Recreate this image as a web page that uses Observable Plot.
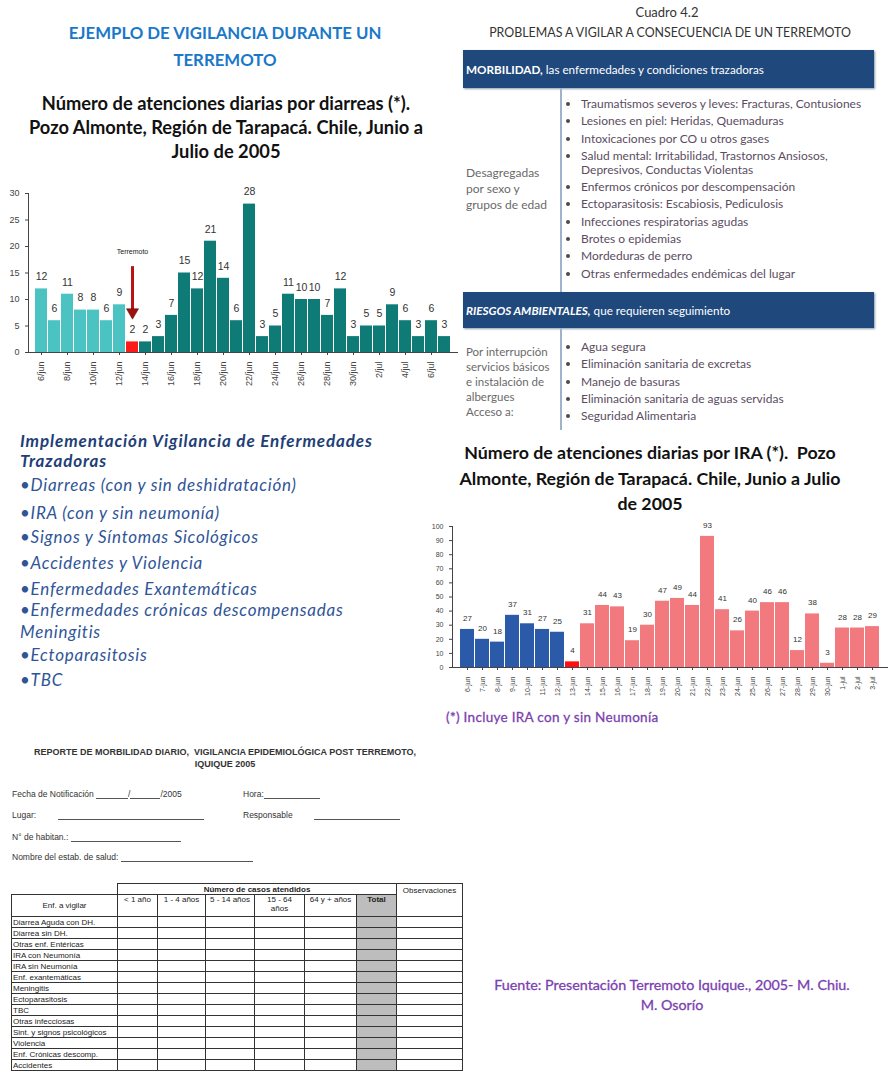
<!DOCTYPE html>
<html><head><meta charset="utf-8">
<script src="https://cdn.jsdelivr.net/npm/d3@7"></script>
<script src="https://cdn.jsdelivr.net/npm/@observablehq/plot@0.6"></script>
<style>
body{margin:0;width:889px;height:1080px;position:relative;background:#fff;font-family:Lato,"Open Sans",sans-serif;overflow:hidden}
.a{position:absolute;white-space:nowrap}
.banner{position:absolute;left:463px;width:411px;background:#1f497d;color:#fff;font-size:11.7px;box-shadow:1px 1px 2px #8899aa;display:flex;align-items:center;padding-left:3px;box-sizing:border-box}
.vline{position:absolute;left:560px;width:2px;background:#9fb3cc}
ul.bl{position:absolute;left:566px;margin:0;padding:0;list-style:none;font-size:12px;color:#5b4d5f}
ul.bl li{line-height:14px;padding-bottom:3.3px;padding-left:15px;position:relative;white-space:nowrap}
ul.bl li:before{content:"";position:absolute;left:0;top:5px;width:4px;height:4px;border-radius:50%;background:#4a4a4a}
.side{position:absolute;left:466px;font-size:12px;color:#6a6a6a;line-height:16px;white-space:nowrap}
.it{position:absolute;left:20px;font-style:italic;font-size:17px;letter-spacing:0.75px;color:#2f5597;white-space:nowrap}
.pur{color:#7a3fb0;-webkit-text-stroke:0.3px #7a3fb0}
.form{font-family:"Liberation Sans",Arial,sans-serif;color:#333;font-size:8.5px}
.ln{display:inline-block;border-bottom:1px solid #555;height:9px;vertical-align:bottom}
table.t{position:absolute;left:11px;top:883px;border-collapse:collapse;font-family:"Liberation Sans",Arial,sans-serif;font-size:8px;color:#222;table-layout:fixed}
table.t td{border:1px solid #333;padding:0 1px;height:10px;line-height:9px;white-space:nowrap;overflow:hidden}
table.t td.g{background:#bdbdbd}
</style></head><body>

<div class="a" style="left:20px;top:19px;width:410px;text-align:center;color:#1a78c8;font-weight:bold;font-size:16.8px;line-height:27px">EJEMPLO DE VIGILANCIA DURANTE UN<br>TERREMOTO</div>
<div class="a" style="left:6px;top:91px;width:440px;text-align:center;color:#111;font-weight:bold;font-size:18.3px;line-height:24px">Número de atenciones diarias por diarreas (*).<br>Pozo Almonte, Región de Tarapacá. Chile, Junio a<br>Julio de 2005</div>
<div id="diarrea" class="a" style="left:0;top:180px"></div>

<div class="a" style="left:445px;top:4px;width:444px;text-align:center;color:#333;font-size:13px">Cuadro 4.2</div>
<div class="a" style="left:445px;top:25px;width:450px;text-align:center;color:#333;font-size:12.4px">PROBLEMAS A VIGILAR A CONSECUENCIA DE UN TERREMOTO</div>
<div class="banner" style="top:50px;height:38px"><b>MORBILIDAD,</b>&nbsp;las enfermedades y condiciones trazadoras</div>
<div class="vline" style="top:88px;height:204px"></div>
<ul class="bl" style="top:97px" id="morb"></ul>
<div class="side" style="top:165px">Desagregadas<br>por sexo y<br>grupos de edad</div>
<div class="banner" style="top:292px;height:36px"><b><i>RIESGOS AMBIENTALES,</i></b>&nbsp;que requieren seguimiento</div>
<div class="vline" style="top:328px;height:102px"></div>
<ul class="bl" style="top:340px" id="riesgo"></ul>
<div class="side" style="top:344px;line-height:15px;font-size:11.5px">Por interrupción<br>servicios básicos<br>e instalación de<br>albergues<br>Acceso a:</div>

<div class="a" style="left:20px;top:431px;font-weight:bold;font-style:italic;font-size:17px;letter-spacing:0.9px;color:#1f3f77;line-height:20px">Implementación Vigilancia de Enfermedades<br>Trazadoras</div>
<div class="it" style="top:474px">•Diarreas (con y sin deshidratación)</div>
<div class="it" style="top:502px">•IRA (con y sin neumonía)</div>
<div class="it" style="top:526px">•Signos y Síntomas Sicológicos</div>
<div class="it" style="top:552px">•Accidentes y Violencia</div>
<div class="it" style="top:578px">•Enfermedades Exantemáticas</div>
<div class="it" style="top:599px">•Enfermedades crónicas descompensadas</div>
<div class="it" style="top:621px">Meningitis</div>
<div class="it" style="top:644px">•Ectoparasitosis</div>
<div class="it" style="top:669px">•TBC</div>

<div class="a" style="left:420px;top:440px;width:460px;text-align:center;color:#111;font-weight:bold;font-size:17.8px;line-height:25.5px">Número de atenciones diarias por IRA (*).&nbsp; Pozo<br>Almonte, Región de Tarapacá. Chile, Junio a Julio<br>de 2005</div>
<div id="ira" class="a" style="left:420px;top:510px"></div>
<div class="a pur" style="left:446px;top:709px;font-size:13.5px;letter-spacing:0.3px">(*) Incluye IRA con y sin Neumonía</div>

<div class="a form" style="left:10px;top:746px;width:430px;text-align:center;font-weight:bold;font-size:9px;line-height:12px">REPORTE DE MORBILIDAD DIARIO,&nbsp; VIGILANCIA EPIDEMIOLÓGICA POST TERREMOTO,<br>IQUIQUE 2005</div>
<div class="a form" style="left:12px;top:789px">Fecha de Notificación <span class="ln" style="width:32px"></span>/<span class="ln" style="width:30px"></span>/2005</div>
<div class="a form" style="left:243px;top:789px">Hora:<span class="ln" style="width:56px"></span></div>
<div class="a form" style="left:12px;top:810px">Lugar:<span class="ln" style="width:146px;margin-left:22px"></span></div>
<div class="a form" style="left:243px;top:810px">Responsable<span class="ln" style="width:86px;margin-left:21px"></span></div>
<div class="a form" style="left:12px;top:832px">N° de habitan.: <span class="ln" style="width:110px"></span></div>
<div class="a form" style="left:12px;top:852px">Nombre del estab. de salud: <span class="ln" style="width:132px"></span></div>
<table class="t" id="tabla"></table>

<div class="a pur" style="left:460px;top:975px;width:424px;text-align:center;font-size:14.3px;line-height:20px;white-space:normal">Fuente: Presentación Terremoto Iquique., 2005- M. Chiu.<br>M. Osorío</div>

<script>
// ---- Datos: diarreas ----
const diarreaFechas = ["6/jun","7/jun","8/jun","9/jun","10/jun","11/jun","12/jun","13/jun","14/jun","15/jun","16/jun","17/jun","18/jun","19/jun","20/jun","21/jun","22/jun","23/jun","24/jun","25/jun","26/jun","27/jun","28/jun","29/jun","30/jun","1/jul","2/jul","3/jul","4/jul","5/jul","6/jul","7/jul"];
const diarreaValores = [12,6,11,8,8,6,9,2,2,3,7,15,12,21,14,6,28,3,5,11,10,10,7,12,3,5,5,9,6,3,6,3];
const diarreaTicksY = [0,5,10,15,20,25,30];
const diarreaTerremoto = "13/jun";
const diarreaColores = ["#4cc3c3","#ff1a1a","#0f7b77"];

// ---- Datos: IRA ----
const iraFechas = ["6-jun","7-jun","8-jun","9-jun","10-jun","11-jun","12-jun","13-jun","14-jun","15-jun","16-jun","17-jun","18-jun","19-jun","20-jun","21-jun","22-jun","23-jun","24-jun","25-jun","26-jun","27-jun","28-jun","29-jun","30-jun","1-jul","2-jul","3-jul"];
const iraValores = [27,20,18,37,31,27,25,4,31,44,43,19,30,47,49,44,93,41,26,40,46,46,12,38,3,28,28,29];
const iraTicksY = [0,10,20,30,40,50,60,70,80,90,100];
const iraTerremoto = "13-jun";
const iraColores = ["#2b5aa8","#ff1010","#f27a7e"];

const grupos = ["antes","terremoto","despues"];

// ---- Textos del cuadro ----
const morbilidad = ["Traumatismos severos y leves: Fracturas, Contusiones","Lesiones en piel: Heridas, Quemaduras","Intoxicaciones por CO u otros gases","Salud mental: Irritabilidad, Trastornos Ansiosos,<br>Depresivos, Conductas Violentas","Enfermos crónicos por descompensación","Ectoparasitosis: Escabiosis, Pediculosis","Infecciones respiratorias agudas","Brotes o epidemias","Mordeduras de perro","Otras enfermedades endémicas del lugar"];
const riesgos = ["Agua segura","Eliminación sanitaria de excretas","Manejo de basuras","Eliminación sanitaria de aguas servidas","Seguridad Alimentaria"];

// ---- Formulario ----
const columnasEdad = ["< 1 año","1 - 4 años","5 - 14 años","15 - 64<br>años","64 y + años"];
const enfermedades = ["Diarrea Aguda con DH.","Diarrea sin DH.","Otras enf. Entéricas","IRA con Neumonía","IRA sin Neumonía","Enf. exantemáticas","Meningitis","Ectoparasitosis","TBC","Otras infecciosas","Sint. y signos psicológicos","Violencia","Enf. Crónicas descomp.","Accidentes"];

document.getElementById("morb").innerHTML = morbilidad.map(d=>`<li>${d}</li>`).join("");
document.getElementById("riesgo").innerHTML = riesgos.map(d=>`<li>${d}</li>`).join("");

const anchos = [106,40,48,49,50,52,40,66];
let h = "<colgroup>" + anchos.map(w=>`<col style="width:${w}px">`).join("") + "</colgroup>";
h += `<tr><td style="border:none;border-bottom:1px solid #333;height:10px"></td><td colspan="6" style="text-align:center;font-weight:bold">Número de casos atendidos</td><td rowspan="2" style="vertical-align:top;text-align:center;padding-top:2px">Observaciones</td></tr>`;
h += `<tr><td style="text-align:center;height:21px">Enf. a vigilar</td>` + columnasEdad.map(c=>`<td style="text-align:center;vertical-align:top;line-height:9px">${c}</td>`).join("") + `<td class="g" style="text-align:center;vertical-align:top;font-weight:bold">Total</td></tr>`;
h += enfermedades.map(e=>`<tr><td>${e}</td>${columnasEdad.map(()=>"<td></td>").join("")}<td class="g"></td><td></td></tr>`).join("");
document.getElementById("tabla").innerHTML = h;

function grupo(fechas, terremoto){
  const k = fechas.indexOf(terremoto);
  return fechas.map((f,i)=> i<k ? "antes" : i===k ? "terremoto" : "despues");
}

const dGr = grupo(diarreaFechas, diarreaTerremoto);
const diarreaData = diarreaFechas.map((f,i)=>({fecha:f, valor:diarreaValores[i], grupo:dGr[i]}));
const iGr = grupo(iraFechas, iraTerremoto);
const iraData = iraFechas.map((f,i)=>({fecha:f, valor:iraValores[i], grupo:iGr[i]}));

const narrow = '"Liberation Sans Narrow","Liberation Sans",Arial,sans-serif';

const chartD = Plot.plot({
  width:460, height:220, marginLeft:28, marginRight:3, marginTop:13, marginBottom:48,
  style:{fontFamily:narrow, fontSize:"9px", color:"#444", background:"#fff"},
  x:{domain:diarreaFechas, padding:0.1, label:null, ticks:diarreaFechas.filter((d,i)=>i%2===0), tickRotate:-90, tickSize:3, line:true},
  y:{domain:[0,30], ticks:diarreaTicksY, label:null, tickSize:3, line:true},
  color:{domain:grupos, range:diarreaColores},
  marks:[
    Plot.barY(diarreaData,{x:"fecha", y:"valor", fill:"grupo"}),
    Plot.text(diarreaData,{x:"fecha", y:"valor", text:"valor", dy:-12, fontSize:10.5, fill:"#333"}),
    Plot.text([diarreaTerremoto],{x:d=>d, y:19, text:()=>"Terremoto", fontSize:7, fill:"#222"}),
    Plot.ruleX([diarreaTerremoto],{x:d=>d, y1:16.2, y2:8, stroke:"#b81414", strokeWidth:3}),
    Plot.dot([diarreaTerremoto],{x:d=>d, y:7.6, symbol:"triangle", rotate:180, r:4.5, fill:"#a01010", stroke:"#501010", strokeWidth:0.5})
  ]
});
document.getElementById("diarrea").append(chartD);

const chartI = Plot.plot({
  width:469, height:200, marginLeft:32, marginRight:2, marginTop:16, marginBottom:43,
  style:{fontFamily:narrow, fontSize:"7px", color:"#444", background:"#fff"},
  x:{domain:iraFechas, padding:0.1, label:null, tickRotate:-90, tickSize:3, line:true},
  y:{domain:[0,100], ticks:iraTicksY, label:null, tickSize:3, line:true},
  color:{domain:grupos, range:iraColores},
  marks:[
    Plot.barY(iraData,{x:"fecha", y:"valor", fill:"grupo"}),
    Plot.text(iraData,{x:"fecha", y:"valor", text:"valor", dy:-11, fontSize:8, fill:"#333"})
  ]
});
document.getElementById("ira").append(chartI);
</script>
</body></html>
